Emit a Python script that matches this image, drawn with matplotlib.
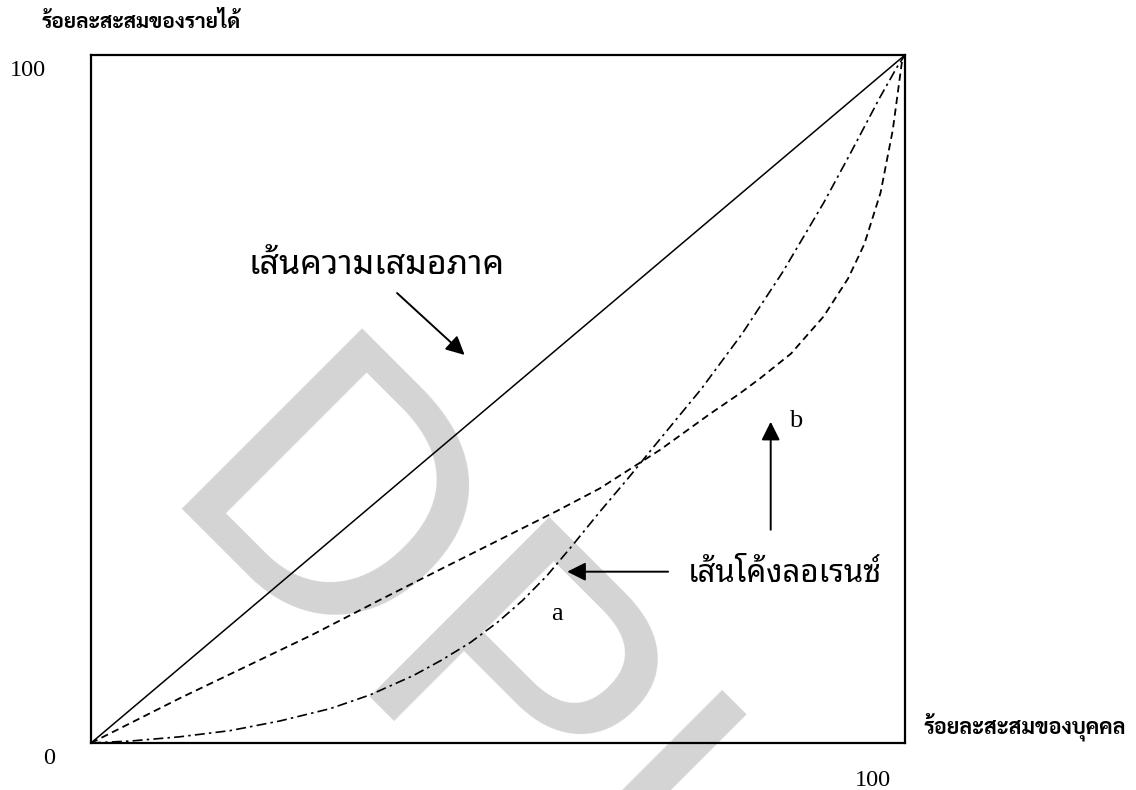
import matplotlib
matplotlib.use("Agg")
import matplotlib.pyplot as plt

# Lorenz curve sketch: equality line plus two Lorenz curves (a, b)
equal_x = [0, 100]
equal_y = [0, 100]

# curve b (dashed)
curve_b_x = [0, 10.9, 19.2, 27.3, 35.5, 43.7, 51.8, 57.2, 62.5, 69.9, 76, 79.7, 82.2, 86, 90, 93, 95, 97, 98.5, 99.6, 100]
curve_b_y = [0, 6.5, 11.2, 15.8, 20.8, 25.7, 30.5, 33.7, 37.0, 42.6, 47.8, 50.8, 53.0, 56.6, 62, 67.5, 72.5, 80, 89.1, 98.8, 100]

# curve a (dash-dot)
curve_a_x = [0, 5, 10.9, 17.1, 23.2, 29.4, 34.3, 39.6, 43, 46.6, 50, 53, 56, 59.2, 62.5, 66, 69.3, 75, 80, 85, 90, 93.2, 96.9, 99.0, 100]
curve_a_y = [0, 0.3, 0.9, 1.8, 3.2, 5.0, 7.0, 9.8, 12.0, 14.6, 17.6, 20.7, 24.3, 28.8, 33.6, 38.5, 43.3, 51.5, 59.5, 68.5, 78.5, 85.5, 93.8, 98.2, 100]

ylabel = "ร้อยละสะสมของรายได้"
xlabel = "ร้อยละสะสมของบุคคล"
equal_label = "เส้นความเสมอภาค"
lorenz_label = "เส้นโค้งลอเรนซ์"

bold_thai = ["Sarabun", "Noto Serif Thai", "DejaVu Sans"]
thai = ["Noto Sans Thai Looped", "Noto Sans Thai", "DejaVu Sans"]
serif = ["Liberation Serif", "DejaVu Serif"]

W, H = 1136, 790
fig = plt.figure(figsize=(W / 100, H / 100), dpi=100)
ax = fig.add_axes([91 / W, 1 - 743 / H, (905 - 91) / W, (743 - 55) / H])
ax.set_xlim(0, 100)
ax.set_ylim(0, 100)
ax.set_xticks([])
ax.set_yticks([])
for s in ax.spines.values():
    s.set_linewidth(1.6)
    s.set_color("black")

# watermark behind everything
ax.text(151 / W, 1 - 508 / H, "DPU", transform=fig.transFigure, fontsize=266,
        family=["Liberation Sans", "DejaVu Sans"], color="#d4d4d4",
        rotation=-45, rotation_mode="anchor", ha="left", va="baseline",
        clip_on=False, zorder=0.5)

ax.plot(equal_x, equal_y, color="black", lw=1.1, zorder=3)
ax.plot(curve_b_x, curve_b_y, color="black", lw=1.3, linestyle=(0, (4, 2.5)), zorder=3)
ax.plot(curve_a_x, curve_a_y, color="black", lw=1.2, linestyle=(0, (6, 2.5, 1.5, 2.5)), zorder=3)

arrow = dict(arrowstyle="-|>", mutation_scale=28, lw=1.4, color="black", shrinkA=0, shrinkB=0)
ax.annotate("", xy=(45.9, 56.4), xytext=(37.6, 65.4), arrowprops=arrow, zorder=4)
ax.annotate("", xy=(58.5, 24.9), xytext=(70.9, 24.9), arrowprops=arrow, zorder=4)
ax.annotate("", xy=(83.5, 46.7), xytext=(83.5, 31.0), arrowprops=arrow, zorder=4)

ax.text(19.3, 69.5, equal_label, family=thai, fontsize=24.5, ha="left", va="center", zorder=4)
ax.text(73.3, 24.6, lorenz_label, family=thai, fontsize=22.5, ha="left", va="center", zorder=4)
ax.text(57.2, 18.7, "a", family=serif, fontsize=19, ha="center", va="center", zorder=4)
ax.text(86.6, 46.8, "b", family=serif, fontsize=19, ha="center", va="center", zorder=4)

# labels outside the box
fig.text(42 / W, 1 - 22 / H, ylabel, family=bold_thai, fontweight="bold", fontsize=15,
         ha="left", va="center")
fig.text(923 / W, 1 - 727 / H, xlabel, family=bold_thai, fontweight="bold", fontsize=15.5,
         ha="left", va="center")
fig.text(28 / W, 1 - 70 / H, "100", family=serif, fontsize=17.5, ha="center", va="center")
fig.text(49 / W, 1 - 759 / H, "0", family=serif, fontsize=17.5, ha="center", va="center")
fig.text(873 / W, 1 - 781 / H, "100", family=serif, fontsize=17.5, ha="center", va="center")

fig.savefig("out.png", dpi=100)
